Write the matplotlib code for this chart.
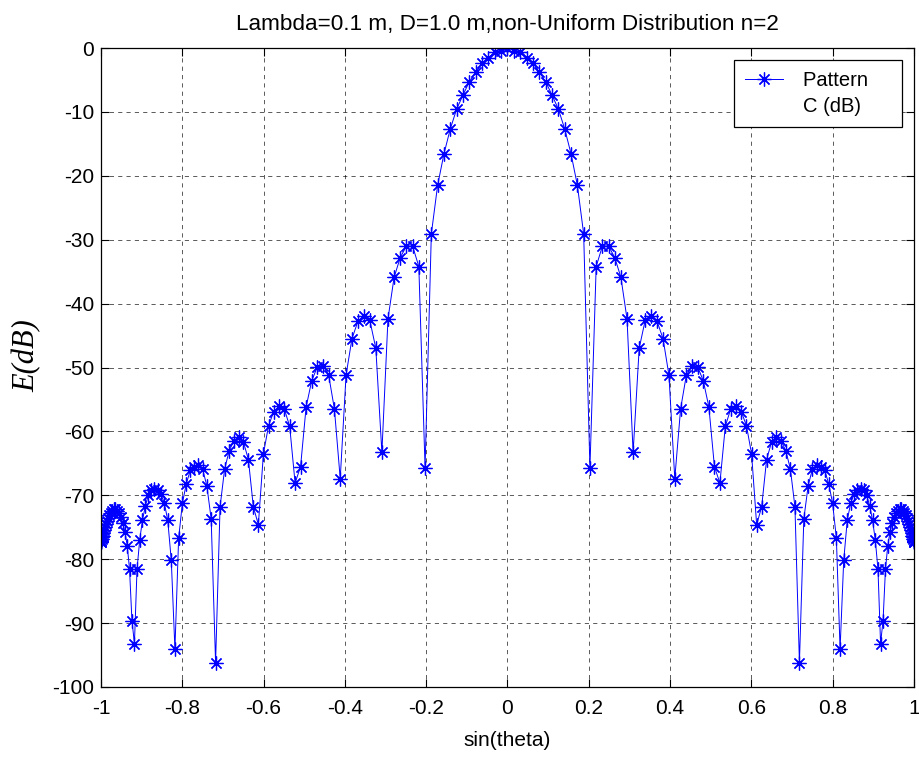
"""
Far-field pattern of a 1 m aperture, non-uniform (n=2) distribution, MATLAB style.
"""
import numpy as np
import matplotlib
matplotlib.use("Agg")
import matplotlib.pyplot as plt
from matplotlib.lines import Line2D

# sin(theta) sample points (left half, -1 .. just below 0)
sin_theta_left = [
    -1.0, -0.99988, -0.99951, -0.99889, -0.99803, -0.99692, -0.99556, -0.99396, -0.99211, -0.99002,
    -0.98769, -0.98511, -0.98229, -0.97922, -0.97592, -0.97237, -0.96858, -0.96456, -0.96029, -0.95579,
    -0.95106, -0.94609, -0.94088, -0.93544, -0.92978, -0.92388, -0.91775, -0.91140, -0.90483, -0.89803,
    -0.89101, -0.88377, -0.87631, -0.86863, -0.86074, -0.85264, -0.84433, -0.83581, -0.82708, -0.81815,
    -0.80902, -0.79968, -0.79016, -0.78043, -0.77051, -0.76041, -0.75011, -0.73963, -0.72897, -0.71813,
    -0.70711, -0.69591, -0.68455, -0.67301, -0.66131, -0.64945, -0.63742, -0.62524, -0.61291, -0.60042,
    -0.58779, -0.57501, -0.56208, -0.54902, -0.53583, -0.52250, -0.50904, -0.49545, -0.48175, -0.46793,
    -0.45399, -0.43994, -0.42578, -0.41151, -0.39715, -0.38268, -0.36812, -0.35347, -0.33874, -0.32392,
    -0.30902, -0.29404, -0.27899, -0.26387, -0.24869, -0.23345, -0.21814, -0.20279, -0.18738, -0.17193,
    -0.15643, -0.14090, -0.12533, -0.10973, -0.09411, -0.07846, -0.06279, -0.04711, -0.03141, -0.01571,
]
e_db_left = [
    -77.3, -77.3, -77.2, -77.1, -76.9, -76.6, -76.3, -75.9, -75.5, -75.0,
    -74.5, -74.0, -73.5, -73.1, -72.7, -72.4, -72.2, -72.2, -72.4, -72.8,
    -73.4, -74.4, -75.8, -77.9, -81.6, -89.6, -93.2, -81.6, -77.0, -73.9,
    -71.7, -70.0, -69.1, -69.0, -69.2, -69.8, -71.2, -73.9, -80.2, -94.1,
    -76.7, -71.2, -68.2, -66.1, -65.6, -65.3, -65.9, -68.5, -73.7, -96.2,
    -71.8, -65.9, -63.0, -61.5, -60.8, -61.7, -64.4, -71.8, -74.6, -63.5,
    -59.1, -56.9, -56.1, -56.5, -59.2, -68.1, -65.5, -56.2, -52.1, -49.9,
    -49.7, -51.2, -56.5, -67.4, -51.2, -45.5, -42.8, -41.9, -42.6, -47.0,
    -63.3, -42.4, -35.9, -32.8, -31.0, -31.0, -34.2, -65.7, -29.1, -21.5,
    -16.6, -12.7, -9.6, -7.4, -5.3, -3.8, -2.4, -1.5, -0.7, -0.4,
]

# right half, 0 .. 1
sin_theta_right = [
    0.0, 0.01571, 0.03141, 0.04711, 0.06279, 0.07846, 0.09411, 0.10973, 0.12533, 0.14090,
    0.15643, 0.17193, 0.18738, 0.20279, 0.21814, 0.23345, 0.24869, 0.26387, 0.27899, 0.29404,
    0.30902, 0.32392, 0.33874, 0.35347, 0.36812, 0.38268, 0.39715, 0.41151, 0.42578, 0.43994,
    0.45399, 0.46793, 0.48175, 0.49545, 0.50904, 0.52250, 0.53583, 0.54902, 0.56208, 0.57501,
    0.58779, 0.60042, 0.61291, 0.62524, 0.63742, 0.64945, 0.66131, 0.67301, 0.68455, 0.69591,
    0.70711, 0.71813, 0.72897, 0.73963, 0.75011, 0.76041, 0.77051, 0.78043, 0.79016, 0.79968,
    0.80902, 0.81815, 0.82708, 0.83581, 0.84433, 0.85264, 0.86074, 0.86863, 0.87631, 0.88377,
    0.89101, 0.89803, 0.90483, 0.91140, 0.91775, 0.92388, 0.92978, 0.93544, 0.94088, 0.94609,
    0.95106, 0.95579, 0.96029, 0.96456, 0.96858, 0.97237, 0.97592, 0.97922, 0.98229, 0.98511,
    0.98769, 0.99002, 0.99211, 0.99396, 0.99556, 0.99692, 0.99803, 0.99889, 0.99951, 0.99988,
    1.0,
]
e_db_right = [
    0.0, -0.4, -0.7, -1.5, -2.4, -3.8, -5.3, -7.4, -9.6, -12.7,
    -16.6, -21.5, -29.1, -65.7, -34.2, -31.0, -31.0, -32.8, -35.9, -42.4,
    -63.3, -47.0, -42.6, -41.9, -42.8, -45.5, -51.2, -67.4, -56.5, -51.2,
    -49.7, -49.9, -52.1, -56.2, -65.5, -68.1, -59.2, -56.5, -56.1, -56.9,
    -59.1, -63.5, -74.6, -71.8, -64.4, -61.7, -60.8, -61.5, -63.0, -65.9,
    -71.8, -96.2, -73.7, -68.5, -65.9, -65.3, -65.6, -66.1, -68.2, -71.2,
    -76.7, -94.1, -80.2, -73.9, -71.2, -69.8, -69.2, -69.0, -69.1, -70.0,
    -71.7, -73.9, -77.0, -81.6, -93.2, -89.6, -81.6, -77.9, -75.8, -74.4,
    -73.4, -72.8, -72.4, -72.2, -72.2, -72.4, -72.7, -73.1, -73.5, -74.0,
    -74.5, -75.0, -75.5, -75.9, -76.3, -76.6, -76.9, -77.1, -77.2, -77.3,
    -77.3,
]

x_ticks = [-1, -0.8, -0.6, -0.4, -0.2, 0, 0.2, 0.4, 0.6, 0.8, 1]
x_tick_labels = ['-1', '-0.8', '-0.6', '-0.4', '-0.2', '0', '0.2', '0.4', '0.6', '0.8', '1']
y_ticks = [-100, -90, -80, -70, -60, -50, -40, -30, -20, -10, 0]
y_tick_labels = ['-100', '-90', '-80', '-70', '-60', '-50', '-40', '-30', '-20', '-10', '0']

x = np.array(sin_theta_left + sin_theta_right)
y = np.array(e_db_left + e_db_right)

plt.rcParams['font.family'] = ['Liberation Sans', 'DejaVu Sans']
plt.rcParams['axes.unicode_minus'] = False

fig = plt.figure(figsize=(9.2, 7.57), dpi=100)
ax = fig.add_axes([101 / 920, 1 - 687 / 757, 813 / 920, 639 / 757])

line, = ax.plot(x, y, '-', color='b', linewidth=0.7, marker=(8, 2, 0), markersize=10,
                markeredgewidth=0.9)

ax.set_xlim(-1, 1)
ax.set_ylim(-100, 0)
ax.set_xticks(x_ticks)
ax.set_xticklabels(x_tick_labels)
ax.set_yticks(y_ticks)
ax.set_yticklabels(y_tick_labels)

ax.grid(True, color='k', linestyle=(0, (5, 5)), linewidth=0.6, alpha=0.75)
ax.tick_params(direction='in', top=True, right=True, length=6, width=0.8,
               labelsize=15)
ax.tick_params(axis='x', pad=9)
ax.tick_params(axis='y', pad=5)
for spine in ax.spines.values():
    spine.set_linewidth(0.9)

ax.set_title('Lambda=0.1 m, D=1.0 m,non-Uniform Distribution n=2', fontsize=16.2, pad=13)
ax.set_xlabel('sin(theta)', fontsize=15, labelpad=9)
ax.set_ylabel('E(dB)', fontsize=22, family=['Liberation Serif'], style='italic')
ax.yaxis.set_label_coords(-0.0726, 0.518)

# second legend row is text only, like the wrapped MATLAB label
blank = Line2D([], [], linestyle='none')
leg = ax.legend([line, blank], ['Pattern    ', 'C (dB)'], loc='upper right',
                bbox_to_anchor=(0.985, 0.981), fontsize=14.5,
                frameon=True, fancybox=False, edgecolor='k', framealpha=1,
                handlelength=1.9, handletextpad=1.0, borderpad=0.55,
                labelspacing=0.35, borderaxespad=0)
leg.get_frame().set_linewidth(0.9)

fig.savefig('out.png', dpi=100)
plt.close(fig)
